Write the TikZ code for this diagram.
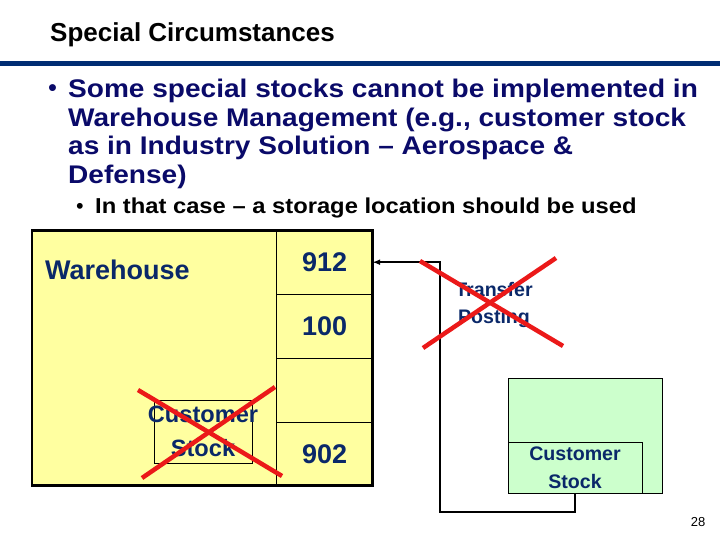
\documentclass[tikz,border=0pt]{standalone}
\usepackage{fontspec}
\setmainfont{Liberation Sans}
\newfontfamily\slidefont[FakeStretch=1.1]{Liberation Sans}
\usetikzlibrary{positioning}

\definecolor{slideblue}{RGB}{10,10,105}
\definecolor{labelblue}{RGB}{10,40,105}
\definecolor{barblue}{RGB}{0,45,115}
\definecolor{whyellow}{RGB}{255,255,160}
\definecolor{stockgreen}{RGB}{204,255,204}
\definecolor{crossred}{RGB}{235,25,25}

\tikzset{
	cell/.style={draw, thin, minimum width=96pt, minimum height=63.5pt, inner sep=0pt,
		font=\bfseries\fontsize{27}{30}\selectfont, text=labelblue},
	cross/.style={crossred, line width=4.5pt},
	link/.style={line width=1.5pt, -latex},
}

\begin{document}
\begin{tikzpicture}[x=1pt,y=-1pt]
	\useasboundingbox (0,0) rectangle (720,540);
	%Draw title and bar
	\node[anchor=base west, inner sep=0pt, font=\bfseries\fontsize{26}{30}\selectfont] (title) at (50,42) {Special Circumstances};
	\fill[barblue] (0,61) rectangle (720,66);
	%Draw bullet points
	\node[anchor=base west, inner sep=0pt, text=slideblue, font=\fontsize{25.5}{28}\selectfont] (dot) at (48,97) {•};
	\node[anchor=north west, inner sep=0pt, align=left, text=slideblue, font=\slidefont\bfseries\fontsize{25.5}{28.7}\selectfont] (point) at (68,78.7)
		{Some special stocks cannot be implemented in\\Warehouse Management (e.g., customer stock\\as in Industry Solution – Aerospace \&\\Defense)};
	\node[anchor=base west, inner sep=0pt, font=\fontsize{21.6}{26}\selectfont] (subdot) at (76,214) {•};
	\node[anchor=base west, inner sep=0pt, font=\slidefont\bfseries\fontsize{21.6}{26}\selectfont] (subpoint) at (95,214) {In that case – a storage location should be used};

	%Draw warehouse
	\node[draw, line width=1.5pt, fill=whyellow, minimum width=340pt, minimum height=254pt] (wh) at (202,358) {};
	\node[cell, anchor=north east] (c912) at (wh.north east) {912};
	\node[cell, below=0pt of c912] (c100) {100};
	\node[cell, below=0pt of c100] (cfree) {};
	\node[cell, below=0pt of cfree] (c902) {902};
	\draw[line width=1.5pt] (wh.north west) rectangle (wh.south east);
	\node[anchor=base west, inner sep=0pt, text=labelblue, font=\bfseries\fontsize{27}{30}\selectfont] (whlabel) at (45,279) {Warehouse};
	\node[draw, thin, minimum width=98pt, minimum height=63pt] (wstock) at (203,431.5) {};
	\node[inner sep=0pt, align=center, text=labelblue, font=\bfseries\fontsize{23.6}{34}\selectfont] (wstocklabel) at (wstock.center) {Customer\\Stock};

	%Draw storage location
	\node[draw, thin, fill=stockgreen, minimum width=154pt, minimum height=115pt] (sloc) at (585,435.5) {};
	\node[draw, thin, anchor=south west, inner sep=0pt, minimum width=134pt, minimum height=51pt, align=center,
		text=labelblue, font=\bfseries\fontsize{19.6}{28}\selectfont] (cstock) at (sloc.south west) {Customer\\Stock};

	%Draw transfer posting
	\coordinate (bend) at (440,512);
	\draw[link] (cstock.south) |- (bend) |- (c912.east);
	\node[inner sep=0pt, align=center, text=labelblue, font=\bfseries\fontsize{19.6}{27}\selectfont] (transfer) at (494,304.5) {Transfer\\Posting};

	%Draw crosses
	\draw[cross] (138,390) -- (282,476);
	\draw[cross] (142,478) -- (275,387);
	\draw[cross] (420,261) -- (563,346);
	\draw[cross] (423,348) -- (556,258);

	%Draw page number
	\node[font=\fontsize{13}{15}\selectfont] (pagenum) at (698,522) {28};
\end{tikzpicture}
\end{document}
